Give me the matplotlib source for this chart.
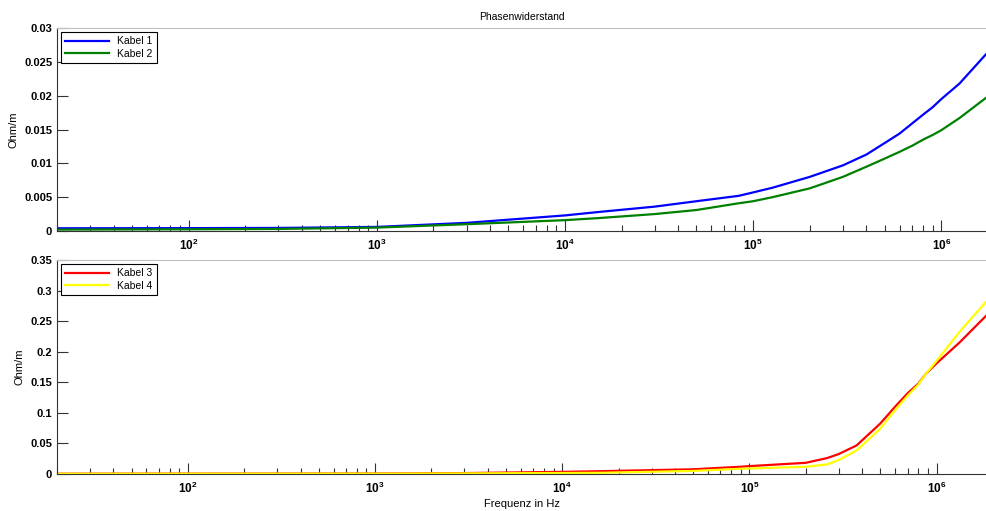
import numpy as np
import matplotlib.pyplot as plt
from matplotlib.ticker import LogLocator, NullFormatter, FuncFormatter

plt.rcParams['font.family'] = ['Liberation Sans', 'DejaVu Sans']
plt.rcParams['mathtext.fontset'] = 'custom'
plt.rcParams['mathtext.rm'] = 'Liberation Sans:bold'
plt.rcParams['mathtext.it'] = 'Liberation Sans:bold'
plt.rcParams['mathtext.bf'] = 'Liberation Sans:bold'

# Phasenwiderstand Kabel 1/2 (oben)
freq_oben = [20, 100, 300, 1e3, 3e3, 1e4, 1.5e4, 3e4, 5e4, 8.4e4, 1e5, 1.27e5,
             2e5, 3e5, 4e5, 5e5, 6e5, 7e5, 8e5, 9e5, 1e6, 1.25e6, 1.75e6]
kabel1 = [0.0004, 0.00042, 0.00045, 0.0006, 0.0012, 0.0023, 0.0028, 0.0036,
          0.0044, 0.0052, 0.0057, 0.0064, 0.0080, 0.0097, 0.0113, 0.0130,
          0.0144, 0.0159, 0.0172, 0.0183, 0.0195, 0.0218, 0.0263]
kabel2 = [0.0002, 0.00025, 0.0003, 0.0005, 0.0010, 0.0016, 0.0019, 0.0025,
          0.0031, 0.0041, 0.0044, 0.0050, 0.0063, 0.0080, 0.0095, 0.0107,
          0.0117, 0.0126, 0.0135, 0.0142, 0.0149, 0.0167, 0.0198]

# Kabel 3/4 (unten)
freq_unten = [20, 100, 1e3, 3e3, 1e4, 1.6e4, 5e4, 8.9e4, 1e5, 2e5, 2.6e5, 3e5,
              3.74e5, 4e5, 5e5, 6e5, 7e5, 8e5, 8.8e5, 1e6, 1.33e6, 1.86e6]
kabel3 = [0.0005, 0.0006, 0.0008, 0.0015, 0.0035, 0.0046, 0.0077, 0.0118,
          0.0129, 0.0183, 0.026, 0.0326, 0.0468, 0.055, 0.0825, 0.110, 0.132,
          0.148, 0.1646, 0.181, 0.2155, 0.2604]
kabel4 = [0.0004, 0.0005, 0.0006, 0.0010, 0.0016, 0.0020, 0.0050, 0.0085,
          0.0090, 0.0118, 0.0156, 0.0227, 0.0386, 0.0468, 0.0742, 0.1044,
          0.128, 0.1465, 0.1646, 0.1849, 0.233, 0.2835]

fig = plt.figure(figsize=(9.87, 5.11), dpi=100)
ax1 = fig.add_axes([0.0578, 0.548, 0.9422, 0.397])
ax2 = fig.add_axes([0.0578, 0.0724, 0.9422, 0.4186])


def dekade(x, pos):
    return r'$\mathbf{10^{%d}}$' % int(round(np.log10(x)))


def style(ax, ymax, ystep, xmax):
    ax.set_xscale('log')
    ax.set_xlim(20, xmax)
    ax.set_ylim(0, ymax)
    ax.set_yticks(np.arange(0, ymax + ystep / 2, ystep))
    ax.xaxis.set_major_locator(LogLocator(base=10, numticks=20))
    ax.xaxis.set_minor_locator(LogLocator(base=10, subs=np.arange(2, 10), numticks=20))
    ax.xaxis.set_minor_formatter(NullFormatter())
    ax.xaxis.set_major_formatter(FuncFormatter(dekade))
    ax.tick_params(axis='both', which='major', direction='in', length=8,
                   width=0.8, labelsize=8, color='#333333')
    ax.tick_params(axis='x', which='minor', direction='in', length=4,
                   width=0.8, color='#333333')
    ax.tick_params(axis='x', pad=5, labelsize=8.5)
    ax.spines['right'].set_visible(False)
    ax.spines['top'].set_color('#c0c0c0')
    ax.spines['left'].set_color('#333333')
    ax.spines['bottom'].set_color('#333333')
    ax.set_ylabel('Ohm/m', fontsize=8, labelpad=4)


ax1.plot(freq_oben, kabel1, color='#0000ff', lw=1.6, label='Kabel 1')
ax1.plot(freq_oben, kabel2, color='#008000', lw=1.6, label='Kabel 2')
style(ax1, 0.03, 0.005, 1.75e6)
ax1.set_yticklabels(['0', '0.005', '0.01', '0.015', '0.02', '0.025', '0.03'],
                    fontweight='bold')
ax1.set_title('Phasenwiderstand', fontsize=7.5, pad=6)

ax2.plot(freq_unten, kabel3, color='#ff0000', lw=1.6, label='Kabel 3')
ax2.plot(freq_unten, kabel4, color='#ffff00', lw=1.6, label='Kabel 4')
style(ax2, 0.35, 0.05, 1.86e6)
ax2.set_yticklabels(['0', '0.05', '0.1', '0.15', '0.2', '0.25', '0.3', '0.35'],
                    fontweight='bold')
ax2.set_xlabel('Frequenz in Hz', fontsize=8, labelpad=2)

for ax in (ax1, ax2):
    leg = ax.legend(loc='upper left', fontsize=7.5, fancybox=False,
                    edgecolor='black', framealpha=1, handlelength=4.2,
                    borderaxespad=0.4, labelspacing=0.2, borderpad=0.4)
    leg.get_frame().set_linewidth(0.8)

fig.savefig('out.png', dpi=100)
